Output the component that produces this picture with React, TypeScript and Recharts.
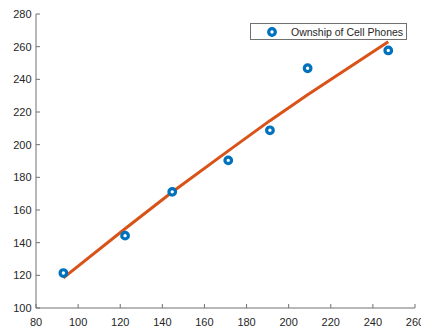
import React from 'react';
import { ComposedChart, Scatter, Line, XAxis, YAxis, Legend } from 'recharts';

const xValues = [93, 122.3, 144.7, 171.3, 191.1, 209, 247.3];
const ownership = [121.4, 144.3, 171.1, 190.4, 208.8, 246.8, 257.7];
const fitValues = [118.4, 148.5, 171, 196.2, 214.7, 230.6, 263];
const xTicks = [80, 100, 120, 140, 160, 180, 200, 220, 240, 260];
const yTicks = [100, 120, 140, 160, 180, 200, 220, 240, 260, 280];
const seriesName = 'Ownship of Cell Phones';

const table = xValues.map((x, i) => ({ x, y: ownership[i], fit: fitValues[i] }));

const FONT = '"Liberation Sans", Arial, Helvetica, sans-serif';
const AXIS = '#707070';
const TEXT = '#262626';
const BLUE = '#0072BD';
const ORANGE = '#D95319';

const Marker = (props: any) => {
  const { cx, cy } = props;
  if (cx == null || cy == null) return null;
  return <circle cx={cx} cy={cy} r={3.3} fill="#ffffff" stroke={BLUE} strokeWidth={3.2} />;
};

const LegendBox = () => (
  <div
    style={{
      width: 155,
      height: 15,
      border: `1px solid ${AXIS}`,
      background: '#fff',
      position: 'relative',
      fontFamily: FONT,
      fontSize: 10.5,
      color: TEXT,
      boxSizing: 'content-box',
    }}
  >
    <svg width={20} height={16} style={{ position: 'absolute', left: 11, top: 0 }}>
      <circle cx={10} cy={8} r={3.3} fill="#fff" stroke={BLUE} strokeWidth={3.2} />
    </svg>
    <span style={{ position: 'absolute', left: 40, top: 1, lineHeight: '14px', whiteSpace: 'nowrap' }}>
      {seriesName}
    </span>
  </div>
);

export default function App() {
  return (
    <div style={{ position: 'absolute', left: 0, top: 0, background: '#fff' }}>
      <ComposedChart
        width={421}
        height={329}
        data={table}
        margin={{ top: 14, right: 6, bottom: 0, left: 0 }}
        style={{ fontFamily: FONT }}
      >
        <XAxis
          xAxisId="bottom"
          dataKey="x"
          type="number"
          domain={[80, 260]}
          ticks={xTicks}
          interval={0}
          height={21}
          tickSize={-4}
          tickMargin={14.5}
          stroke={AXIS}
          tick={{ fill: TEXT, fontSize: 11, fontFamily: FONT }}
          allowDataOverflow
        />
        <XAxis
          xAxisId="top"
          orientation="top"
          dataKey="x"
          type="number"
          domain={[80, 260]}
          ticks={xTicks}
          interval={0}
          height={0}
          tickSize={-4}
          tick={false}
          stroke={AXIS}
          allowDataOverflow
        />
        <YAxis
          yAxisId="left"
          type="number"
          domain={[100, 280]}
          ticks={yTicks}
          interval={0}
          width={36}
          tickSize={-4}
          tickMargin={8.5}
          stroke={AXIS}
          tick={{ fill: TEXT, fontSize: 11, fontFamily: FONT }}
          allowDataOverflow
        />
        <YAxis
          yAxisId="right"
          orientation="right"
          type="number"
          domain={[100, 280]}
          ticks={yTicks}
          interval={0}
          width={0}
          tickSize={-4}
          tick={false}
          stroke={AXIS}
          allowDataOverflow
        />
        <Line
          xAxisId="bottom"
          yAxisId="left"
          dataKey="fit"
          stroke={ORANGE}
          strokeWidth={3}
          dot={false}
          activeDot={false}
          isAnimationActive={false}
          legendType="none"
        />
        <Scatter
          xAxisId="bottom"
          yAxisId="left"
          dataKey="y"
          name={seriesName}
          shape={Marker}
          isAnimationActive={false}
        />
        <Legend
          layout="horizontal"
          align="center"
          verticalAlign="middle"
          content={<LegendBox />}
          wrapperStyle={{ position: 'absolute', left: 250, top: 23, width: 'auto', height: 'auto' }}
        />
      </ComposedChart>
    </div>
  );
}
